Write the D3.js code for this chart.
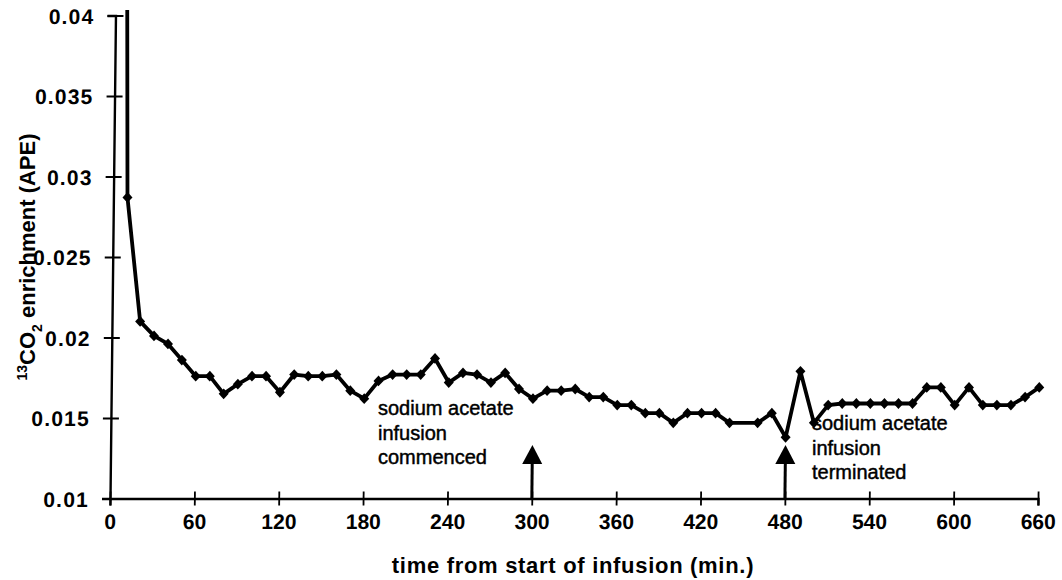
<!DOCTYPE html>
<html>
<head>
<meta charset="utf-8">
<script src="https://cdn.jsdelivr.net/npm/d3@7"></script>
<style>
  html, body { margin: 0; padding: 0; background: #fff; }
  svg { display: block; }
  text { font-family: "Liberation Sans", Arial, Helvetica, sans-serif; fill: #000; }
</style>
</head>
<body>
<svg id="chart" width="1062" height="580"></svg>
<script>
// Sampling times (min from start of infusion); no sample was taken at 450 min.
const minutes = [
  0, 10, 20, 30, 40, 50, 60, 70, 80, 90, 100, 110, 120, 130, 140, 150, 160, 170, 180, 190,
  200, 210, 220, 230, 240, 250, 260, 270, 280, 290, 300, 310, 320, 330, 340, 350, 360, 370,
  380, 390, 400, 410, 420, 430, 440, 460, 470, 480, 490, 500, 510, 520, 530, 540, 550, 560,
  570, 580, 590, 600, 610, 620, 630, 640, 650, 660
];
// 13CO2 enrichment (APE); the first reading is off the top of the scale.
const enrichment = [
  0.098, 0.0287, 0.0210, 0.0201, 0.0196, 0.0186, 0.0176, 0.0176, 0.0165, 0.0171, 0.0176, 0.0176,
  0.0166, 0.0177, 0.0176, 0.0176, 0.0177, 0.0167, 0.0162, 0.0173, 0.0177, 0.0177, 0.0177, 0.0187,
  0.0172, 0.0178, 0.0177, 0.0172, 0.0178, 0.0168, 0.0162, 0.0167, 0.0167, 0.0168, 0.0163, 0.0163,
  0.0158, 0.0158, 0.0153, 0.0153, 0.0147, 0.0153, 0.0153, 0.0153, 0.0147, 0.0147, 0.0153, 0.0138,
  0.0179, 0.0147, 0.0158, 0.0159, 0.0159, 0.0159, 0.0159, 0.0159, 0.0159, 0.0169, 0.0169, 0.0158,
  0.0169, 0.0158, 0.0158, 0.0158, 0.0163, 0.0169
];
const xTicks = [0, 60, 120, 180, 240, 300, 360, 420, 480, 540, 600, 660];
const yTicks = [0.01, 0.015, 0.02, 0.025, 0.03, 0.035, 0.04];
const yTickLabels = ["0.01", "0.015", "0.02", "0.025", "0.03", "0.035", "0.04"];
const eventTimes = [300, 480];
const eventNotes = [
  ["sodium acetate", "infusion", "commenced"],
  ["sodium acetate", "infusion", "terminated"]
];

const svg = d3.select("#chart");
const baseY = 498.5;

const x = d3.scaleLinear().domain([0, 660]).range([110, 1038]);
const y = d3.scaleLinear().domain([0.01, 0.04]).range([baseY, 15.5]);

// Plot frame is drawn with a slight lean to the right towards the top.
const plot = svg.append("g")
  .attr("transform", `translate(0,${baseY}) skewX(-0.65) translate(0,${-baseY})`);

// Y axis with ticks crossing the axis line
const yAxis = plot.append("g")
  .attr("transform", `translate(${x(0)},0)`)
  .call(d3.axisLeft(y).tickValues(yTicks)
    .tickFormat((d, i) => yTickLabels[i])
    .tickSizeOuter(0).tickSize(8).tickPadding(13));
yAxis.select(".domain").attr("stroke", "#000").attr("stroke-width", 2.4);
yAxis.selectAll(".tick line").attr("x1", -8).attr("x2", 8).attr("stroke", "#000").attr("stroke-width", 1.8);
yAxis.selectAll(".tick text")
  .style("font-size", "21px").style("font-weight", "bold")
  .style("letter-spacing", "1.2px")
  .attr("dy", "0.36em");
yAxis.attr("font-family", null).attr("font-size", null);

// X axis
const xAxis = plot.append("g")
  .attr("transform", `translate(0,${baseY})`)
  .call(d3.axisBottom(x).tickValues(xTicks)
    .tickSizeOuter(0).tickSize(7).tickPadding(9));
xAxis.select(".domain").attr("stroke", "#000").attr("stroke-width", 2.4);
xAxis.selectAll(".tick line").attr("y1", -7).attr("y2", 7).attr("stroke", "#000").attr("stroke-width", 1.8);
xAxis.selectAll(".tick text")
  .style("font-size", "21px").style("font-weight", "bold");
xAxis.attr("font-family", null).attr("font-size", null);

// Clip the series at the top of the value axis
svg.append("defs").append("clipPath").attr("id", "plot-clip")
  .append("rect").attr("x", 100).attr("y", 10).attr("width", 960).attr("height", 520);

const points = minutes.map((m, i) => ({ m, v: enrichment[i] }));
const series = plot.append("g").attr("clip-path", "url(#plot-clip)");

series.append("path")
  .datum(points)
  .attr("fill", "none")
  .attr("stroke", "#000")
  .attr("stroke-width", 3.8)
  .attr("stroke-linejoin", "round")
  .attr("d", d3.line().x(d => x(d.m)).y(d => y(d.v)));

series.selectAll("path.marker")
  .data(points)
  .join("path")
  .attr("class", "marker")
  .attr("fill", "#000")
  .attr("d", d => {
    const cx = x(d.m), cy = y(d.v), hw = 5, hh = 5.4;
    return `M${cx},${cy - hh}L${cx + hw},${cy}L${cx},${cy + hh}L${cx - hw},${cy}Z`;
  });

// Event arrows pointing up at the time axis
const arrows = plot.selectAll("g.event")
  .data(eventTimes)
  .join("g")
  .attr("class", "event");
arrows.append("line")
  .attr("x1", d => x(d)).attr("x2", d => x(d))
  .attr("y1", 460).attr("y2", baseY)
  .attr("stroke", "#000").attr("stroke-width", 3);
arrows.append("path")
  .attr("fill", "#000")
  .attr("d", d => `M${x(d)},445L${x(d) + 10},464L${x(d) - 10},464Z`);

// Event notes
const noteAnchors = [
  { left: 378, top: 415 },
  { left: 812, top: 430 }
];
eventNotes.forEach((lines, i) => {
  const t = svg.append("text")
    .attr("x", noteAnchors[i].left)
    .attr("y", noteAnchors[i].top)
    .style("font-size", "20px")
    .style("stroke", "#000").style("stroke-width", "0.45px");
  lines.forEach((line, j) => {
    t.append("tspan")
      .attr("x", noteAnchors[i].left)
      .attr("dy", j === 0 ? 0 : 24.5)
      .text(line);
  });
});

// Axis titles
svg.append("text")
  .attr("x", 573).attr("y", 573)
  .attr("text-anchor", "middle")
  .style("font-size", "22px").style("font-weight", "bold")
  .style("letter-spacing", "0.7px")
  .text("time from start of infusion (min.)");

const yTitle = svg.append("text")
  .attr("transform", "translate(35,257) rotate(-90)")
  .attr("text-anchor", "middle")
  .style("font-size", "22px").style("font-weight", "bold");
yTitle.append("tspan").style("font-size", "14px").attr("dy", -8).text("13");
yTitle.append("tspan").attr("dy", 8).text("CO");
yTitle.append("tspan").style("font-size", "14px").attr("dy", 7).text("2");
yTitle.append("tspan").attr("dy", -7).text(" enrichment (APE)");
</script>
</body>
</html>
